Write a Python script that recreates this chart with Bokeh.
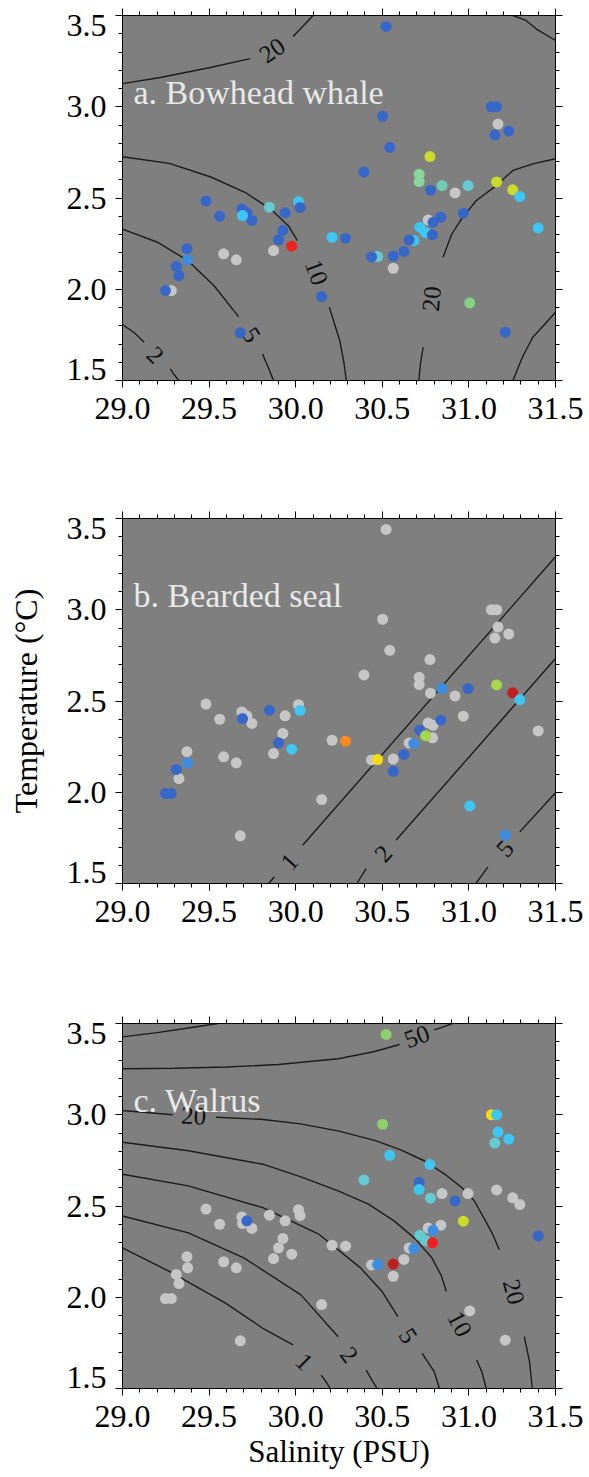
import numpy as np
from bokeh.plotting import figure
from bokeh.models import LinearAxis, Range1d, FixedTicker, CustomJSTickFormatter, ColumnDataSource, Grid
from bokeh.layouts import column
from bokeh.embed import file_html
from bokeh.resources import INLINE
from bokeh.core.properties import value

# ---------------- data ----------------
SALINITY = [30.522, 30.502, 30.543, 30.394, 30.775, 30.713, 30.713, 30.778, 30.845, 30.920,
            30.995, 31.130, 31.160, 31.168, 31.150, 31.230, 31.160, 31.253, 31.294, 30.968,
            31.400, 30.838, 30.793, 30.765, 30.717, 30.750, 30.790, 30.682, 30.655, 30.625,
            30.563, 30.473, 30.438, 30.563, 30.210, 30.288, 30.150, 31.005, 31.210, 30.016,
            30.025, 29.977, 29.872, 29.901, 29.926, 29.939, 29.848, 29.689, 29.718, 29.747,
            29.693, 29.561, 29.482, 29.584, 29.657, 29.372, 29.376, 29.311, 29.326, 29.248,
            29.282, 29.680]
TEMPERATURE = [3.440, 2.948, 2.778, 2.643, 2.727, 2.630, 2.590, 2.543, 2.568, 2.528,
               2.568, 3.000, 3.000, 2.905, 2.845, 2.867, 2.588, 2.545, 2.508, 2.417,
               2.336, 2.395, 2.367, 2.380, 2.340, 2.310, 2.298, 2.267, 2.270, 2.207,
               2.182, 2.179, 2.177, 2.115, 2.285, 2.280, 1.960, 1.925, 1.765, 2.480,
               2.448, 2.236, 2.212, 2.271, 2.322, 2.419, 2.450, 2.440, 2.419, 2.377,
               2.404, 2.400, 2.483, 2.194, 2.161, 2.222, 2.161, 2.125, 2.075, 1.993,
               1.993, 1.761]
# density class of each station for each species ("G" = none observed)
CLASS_A = ["B", "B", "B", "B", "Y", "A1", "A1", "B", "A", "G",
           "T", "B", "B", "G", "B", "B", "Y", "Y", "C", "B",
           "C", "B", "B", "G", "C", "C", "B", "C", "B", "B",
           "B", "T", "B", "G", "C", "B", "B", "LG", "B", "C",
           "B", "R", "G", "B", "B", "B", "T", "B", "B", "B",
           "C", "B", "B", "G", "G", "B", "M", "B", "B", "B",
           "G", "B"]
CLASS_B = ["G", "G", "G", "G", "G", "G", "G", "G", "M", "G",
           "B", "G", "G", "G", "G", "G", "YG", "DR", "C", "G",
           "G", "B", "G", "G", "B", "YG", "G", "M", "G", "B",
           "G", "YY", "G", "B", "G", "O", "G", "C", "M", "G",
           "C", "C", "G", "B", "G", "G", "B", "G", "G", "G",
           "B", "G", "G", "G", "G", "G", "M", "B", "G", "B",
           "B", "G"]
CLASS_C = ["L", "L", "C", "T", "C", "B", "C", "T", "G", "B",
           "G", "YY", "C", "C", "T", "C", "G", "G", "G", "Y",
           "B", "G", "M", "G", "T", "T", "R", "M", "G", "G",
           "DR", "M", "G", "G", "G", "G", "G", "G", "G", "G",
           "G", "G", "G", "G", "G", "G", "G", "G", "B", "G",
           "G", "G", "G", "G", "G", "G", "G", "G", "G", "G",
           "G", "G"]

XTICKS = [29.0, 29.5, 30.0, 30.5, 31.0, 31.5]
XTICK_LABELS = ["29.0", "29.5", "30.0", "30.5", "31.0", "31.5"]
YTICKS = [1.5, 2.0, 2.5, 3.0, 3.5]
YTICK_LABELS = ["1.5", "2.0", "2.5", "3.0", "3.5"]

TITLES = ["a. Bowhead whale", "b. Bearded seal", "c. Walrus"]

# contour lines (salinity list, temperature list)
CONTOURS_A = [
    ([29.0, 29.219, 29.507, 29.737], [3.127, 3.160, 3.215, 3.264]),
    ([29.985, 30.04, 30.10], [3.385, 3.44, 3.5]),
    ([31.254, 31.33, 31.388, 31.5], [3.5, 3.473, 3.427, 3.363]),
    ([29.0, 29.27, 29.51, 29.71, 29.86, 29.96, 30.01], [2.726, 2.69, 2.615, 2.53, 2.435, 2.345, 2.267]),
    ([30.194, 30.255, 30.278, 30.292], [1.902, 1.716, 1.60, 1.5]),
    ([29.0, 29.206, 29.38, 29.53, 29.67], [2.329, 2.256, 2.155, 2.018, 1.85]),
    ([29.808, 29.84, 29.872], [1.646, 1.575, 1.5]),
    ([29.0, 29.07, 29.125], [1.807, 1.76, 1.71]),
    ([29.276, 29.30, 29.325], [1.564, 1.53, 1.5]),
    ([30.851, 30.90, 30.96, 31.043, 31.158, 31.254, 31.37, 31.5], [2.176, 2.30, 2.39, 2.486, 2.568, 2.651, 2.687, 2.715]),
    ([30.736, 30.72, 30.711], [1.683, 1.59, 1.5]),
    ([31.5, 31.43, 31.369, 31.31, 31.254], [1.874, 1.80, 1.737, 1.63, 1.5]),
]
CLABEL_A_S = [29.864, 30.121, 29.745, 29.19, 30.784]
CLABEL_A_T = [3.31, 2.093, 1.75, 1.64, 1.948]
CLABEL_A_TEXT = ["20", "10", "5", "2", "20"]
CLABEL_A_ANGLE = [35, -70, -58, -45, 85]

CONTOURS_B = [
    ([29.844, 29.877], [1.5, 1.537]),
    ([30.04, 31.5], [1.71, 3.29]),
    ([30.353, 30.407], [1.5, 1.582]),
    ([30.58, 31.5], [1.738, 2.733]),
    ([31.04, 31.11], [1.5, 1.591]),
    ([31.294, 31.5], [1.783, 1.997]),
]
CLABEL_B_S = [29.963, 30.504, 31.208]
CLABEL_B_T = [1.619, 1.665, 1.692]
CLABEL_B_TEXT = ["1", "2", "5"]
CLABEL_B_ANGLE = [48, 48, 48]

CONTOURS_C = [
    ([29.0, 29.2, 29.4, 29.55], [3.427, 3.45, 3.478, 3.5]),
    ([29.0, 29.3, 29.6, 29.9, 30.245, 30.45, 30.60], [3.252, 3.255, 3.262, 3.275, 3.307, 3.345, 3.385]),
    ([30.80, 30.85, 30.905], [3.465, 3.48, 3.5]),
    ([29.0, 29.29], [3.023, 3.0]),
    ([29.54, 29.8, 30.028, 30.25, 30.46, 30.6, 30.742, 30.86, 30.96, 31.03, 31.095, 31.14, 31.175],
     [2.986, 2.975, 2.95, 2.91, 2.858, 2.81, 2.748, 2.675, 2.60, 2.53, 2.42, 2.34, 2.261]),
    ([31.32, 31.35, 31.366], [1.784, 1.647, 1.5]),
    ([29.0, 29.38, 29.81, 30.03, 30.245, 30.42, 30.57, 30.69, 30.786, 30.84, 30.87],
     [2.849, 2.803, 2.729, 2.66, 2.583, 2.51, 2.417, 2.32, 2.216, 2.12, 2.032]),
    ([31.045, 31.075, 31.10], [1.656, 1.59, 1.5]),
    ([29.0, 29.38, 29.81, 30.136, 30.374, 30.50, 30.59], [2.674, 2.61, 2.491, 2.344, 2.161, 2.03, 1.894]),
    ([30.73, 30.80, 30.83], [1.693, 1.592, 1.5]),
    ([29.0, 29.38, 29.70, 30.03, 30.245], [2.445, 2.353, 2.216, 2.013, 1.784]),
    ([30.407, 30.44, 30.47], [1.601, 1.546, 1.5]),
    ([29.0, 29.27, 29.595, 29.81, 29.985], [2.271, 2.142, 1.968, 1.83, 1.739]),
    ([30.147, 30.18, 30.20], [1.573, 1.53, 1.5]),
]
CLABEL_C_S = [30.70, 29.411, 31.26, 30.948, 30.65, 30.31, 30.05]
CLABEL_C_T = [3.43, 2.995, 2.03, 1.855, 1.79, 1.685, 1.647]
CLABEL_C_TEXT = ["50", "20", "20", "10", "5", "2", "1"]
CLABEL_C_ANGLE = [20, -3, -75, -62, -57, -52, -45]

# ---------------- style ----------------
PALETTE = {
    "G": "#c6c6c6", "B": "#3767c8", "M": "#3d8ee0", "C": "#3ec6f2", "T": "#64cbd3",
    "A": "#6ccdb4", "A1": "#8ad59b", "L": "#8ccf6c", "LG": "#7fd383", "Y": "#cadc2a",
    "YG": "#a6d64a", "YY": "#f6dc10", "O": "#f68a1f", "R": "#ef2121", "DR": "#c01f1f",
}
FONT = "Liberation Serif"
XMINOR = [round(29.0 + 0.1 * i, 2) for i in range(26)]
YMINOR = [round(1.5 + 0.1 * i, 2) for i in range(21)]
FMT_CODE = """
for (let i = 0; i < vals.length; i++) { if (Math.abs(vals[i] - tick) < 1e-6) return labels[i]; }
return "";
"""


def tick_axis(ticks, minor):
    ax = LinearAxis(ticker=FixedTicker(ticks=ticks, minor_ticks=minor))
    ax.major_tick_out = 7
    ax.major_tick_in = 0
    ax.minor_tick_out = 4
    ax.minor_tick_in = 0
    ax.axis_line_color = "black"
    ax.major_tick_line_color = "black"
    ax.minor_tick_line_color = "black"
    ax.major_label_text_color = None
    ax.major_label_text_font_size = "1px"
    ax.major_label_standoff = 0
    return ax


def make_panel(title, classes, contours, ls, lt, ltxt, lang, top, bottom, ylabel=None, xlabel=None):
    p = figure(frame_width=433, frame_height=365,
               x_range=Range1d(29.0, 31.5), y_range=Range1d(1.5, 3.5),
               x_axis_location=None, y_axis_location=None,
               output_backend="svg", toolbar_location=None,
               min_border_left=122, min_border_right=34,
               min_border_top=top, min_border_bottom=bottom)
    p.center = [r for r in p.center if not isinstance(r, Grid)]
    p.background_fill_color = "#7f7f7f"
    p.border_fill_color = "white"
    p.outline_line_color = "black"
    p.outline_line_width = 1

    # axes
    bx = tick_axis(XTICKS, XMINOR)
    bx.major_label_text_font_size = "32px"
    bx.major_label_text_font = FONT
    bx.major_label_text_color = "black"
    bx.major_label_standoff = 10
    bx.formatter = CustomJSTickFormatter(args=dict(vals=XTICKS, labels=XTICK_LABELS), code=FMT_CODE)
    if xlabel:
        bx.axis_label = xlabel
        bx.axis_label_text_font = FONT
        bx.axis_label_text_font_size = "31px"
        bx.axis_label_text_font_style = "normal"
        bx.axis_label_text_color = "black"
        bx.axis_label_standoff = 4
    p.add_layout(bx, "below")
    p.add_layout(tick_axis(XTICKS, XMINOR), "above")
    p.add_layout(tick_axis(YTICKS, YMINOR), "right")
    p.add_layout(tick_axis(YTICKS, YMINOR), "left")

    # label-only left axis (end labels kept inside the frame height, as in the original)
    ypos = [YTICKS[0] + 0.06] + YTICKS[1:-1] + [YTICKS[-1] - 0.055]
    ly = LinearAxis(ticker=FixedTicker(ticks=ypos, minor_ticks=[]),
                    formatter=CustomJSTickFormatter(args=dict(vals=ypos, labels=YTICK_LABELS), code=FMT_CODE))
    ly.major_tick_out = 0
    ly.major_tick_in = 0
    ly.minor_tick_out = 0
    ly.minor_tick_in = 0
    ly.axis_line_color = None
    ly.major_label_standoff = 9
    ly.major_label_text_font = FONT
    ly.major_label_text_font_size = "32px"
    ly.major_label_text_color = "black"
    if ylabel:
        ly.axis_label = ylabel
        ly.axis_label_text_font = FONT
        ly.axis_label_text_font_size = "32px"
        ly.axis_label_text_font_style = "normal"
        ly.axis_label_text_color = "black"
        ly.axis_label_standoff = 20
    p.add_layout(ly, "left")

    # contour lines
    p.multi_line(xs=[c[0] for c in contours], ys=[c[1] for c in contours],
                 line_color="#1c1c1c", line_width=1.4)
    p.text(x=ls, y=lt, text=ltxt, angle=list(np.deg2rad(lang)),
           text_font=value(FONT), text_font_size="25px", text_color="#111111",
           text_align="center", text_baseline="middle")

    # stations: empty ones first, then observations on top
    order = [i for i, c in enumerate(classes) if c == "G"] + [i for i, c in enumerate(classes) if c != "G"]
    src = ColumnDataSource(dict(
        s=[SALINITY[i] for i in order],
        t=[TEMPERATURE[i] for i in order],
        col=[PALETTE[classes[i]] for i in order],
    ))
    p.scatter("s", "t", source=src, size=11, fill_color="col", line_color=None)

    # panel title
    p.text(x=[29.0635], y=[3.078], text=[title], text_font=value(FONT),
           text_font_size="34px", text_color="#e8e8e8",
           text_align="left", text_baseline="alphabetic")
    return p


pa = make_panel(TITLES[0], CLASS_A, CONTOURS_A, CLABEL_A_S, CLABEL_A_T, CLABEL_A_TEXT, CLABEL_A_ANGLE, 15, 60)
pb = make_panel(TITLES[1], CLASS_B, CONTOURS_B, CLABEL_B_S, CLABEL_B_T, CLABEL_B_TEXT, CLABEL_B_ANGLE, 78, 60,
                ylabel="Temperature (°C)")
pc = make_panel(TITLES[2], CLASS_C, CONTOURS_C, CLABEL_C_S, CLABEL_C_T, CLABEL_C_TEXT, CLABEL_C_ANGLE, 80, 89,
                xlabel="Salinity (PSU)")

layout = column(pa, pb, pc)
open("out.html", "w").write(file_html(layout, INLINE))
